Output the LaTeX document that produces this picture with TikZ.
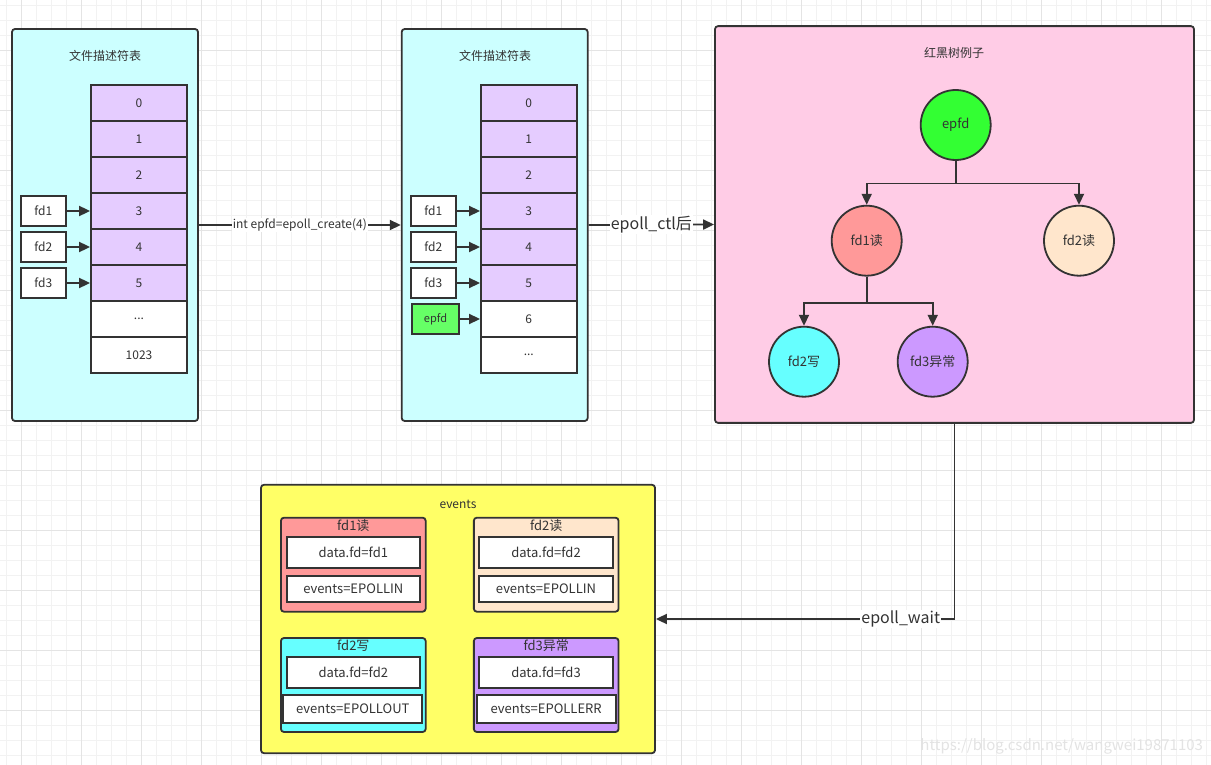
\documentclass[tikz,border=0pt]{standalone}
\usepackage{fontspec}
\newfontfamily\cjk{Noto Sans CJK SC}
\usetikzlibrary{arrows.meta}

\definecolor{panelcyan}{HTML}{CCFFFF}
\definecolor{cellpurple}{HTML}{E5CCFF}
\definecolor{treepink}{HTML}{FFCCE6}
\definecolor{epgreen}{HTML}{33FF33}
\definecolor{boxgreen}{HTML}{66FF66}
\definecolor{rdred}{HTML}{FF9999}
\definecolor{rdpeach}{HTML}{FFE6CC}
\definecolor{wrcyan}{HTML}{66FFFF}
\definecolor{errpurple}{HTML}{CC99FF}
\definecolor{evyellow}{HTML}{FFFF66}
\definecolor{edge}{HTML}{333333}
\definecolor{gridminor}{HTML}{F2F2F2}
\definecolor{gridmajor}{HTML}{E4E4E4}

\tikzset{
  panel/.style={draw=edge,line width=1.8pt,rounded corners=3pt,inner sep=0pt},
  titletext/.style={font=\cjk\fontsize{12}{14}\selectfont,text=edge,inner sep=1pt},
  cell/.style={draw=edge,line width=1.8pt,minimum width=96pt,minimum height=36pt,inner sep=0pt,font=\cjk\fontsize{12}{14}\selectfont,text=edge},
  fdbox/.style={draw=edge,fill=white,line width=1.8pt,minimum width=45pt,minimum height=30pt,inner sep=0pt,font=\cjk\fontsize{12}{14}\selectfont,text=edge},
  tip/.style={-{Triangle[length=11pt,width=10pt]},draw=edge,line width=1.8pt},
  rbnode/.style={circle,draw=edge,line width=1.8pt,minimum size=70pt,inner sep=0pt,font=\cjk\fontsize{13}{15}\selectfont,text=edge},
  evbox/.style={draw=edge,line width=1.8pt,rounded corners=3pt,minimum width=144.7pt,minimum height=94pt,inner sep=0pt},
  evfield/.style={draw=edge,fill=white,line width=1.8pt,inner sep=0pt,font=\cjk\fontsize{13}{15}\selectfont,text=edge},
  edgelabel/.style={fill=white,text=edge,inner sep=1pt}
}

\begin{document}
\begin{tikzpicture}[x=1pt,y=-1pt]
  \useasboundingbox (0,0) rectangle (1211,765);
  % background grid
  \fill[white] (0,0) rectangle (1211,765);
  \foreach \k in {0,...,80} \draw[gridminor,line width=0.8pt] ({6.7+15*\k},0) -- ({6.7+15*\k},765);
  \foreach \k in {0,...,50} \draw[gridminor,line width=0.8pt] (0,{5+15*\k}) -- (1211,{5+15*\k});
  \foreach \k in {0,...,19} \draw[gridmajor,line width=0.8pt] ({21.7+60*\k},0) -- ({21.7+60*\k},765);
  \foreach \k in {0,...,11} \draw[gridmajor,line width=0.8pt] (0,{50+60*\k}) -- (1211,{50+60*\k});

  % file descriptor table
  \node[panel,fill=panelcyan,minimum width=186pt,minimum height=392pt] (lpanel) at (105,225) {};
  \node[titletext] (ltitle) at (105,56) {文件描述符表};
  \foreach \i in {0,...,5}
    \node[cell,fill=cellpurple] (lc\i) at (139,{103+36*\i}) {\i};
  \node[cell,fill=white] (lc6) at (139,319) {...};
  \node[cell,fill=white] (lc7) at (139,355) {1023};
  \foreach \n [count=\r from 3] in {1,2,3} {
    \node[fdbox] (lfd\n) at (43.3,{103+36*\r}) {fd\n};
    \draw[tip] (lfd\n.east) -- (lc\r.west);
  }

  % after epoll_create
  \node[panel,fill=panelcyan,minimum width=186pt,minimum height=392pt] (mpanel) at (494.7,225) {};
  \node[titletext] (mtitle) at (495,56) {文件描述符表};
  \foreach \i in {0,...,5}
    \node[cell,fill=cellpurple,minimum width=95.7pt] (mc\i) at (528.8,{103+36*\i}) {\i};
  \node[cell,fill=white,minimum width=95.7pt] (mc6) at (528.8,319) {6};
  \node[cell,fill=white,minimum width=95.7pt] (mc7) at (528.8,355) {...};
  \foreach \n [count=\r from 3] in {1,2,3} {
    \node[fdbox] (mfd\n) at (433.3,{103+36*\r}) {fd\n};
    \draw[tip] (mfd\n.east) -- (mc\r.west);
  }
  \node[fdbox,fill=boxgreen,minimum width=47pt,font=\cjk\fontsize{11}{13}\selectfont] (mep) at (435.5,319) {epfd};
  \draw[tip] (mep.east) -- (mc6.west);

  \draw[tip] (lpanel.east) -- node[edgelabel,font=\cjk\fontsize{12}{14}\selectfont] {int epfd=epoll\_create(4)} (mpanel.west);

  % red-black tree
  \node[panel,fill=treepink,minimum width=479pt,minimum height=396.7pt] (tpanel) at (954.5,224.5) {};
  \node[titletext] (ttitle) at (954,53) {红黑树例子};
  \node[rbnode,fill=epgreen] (rbep) at (955.7,125) {epfd};
  \node[rbnode,fill=rdred] (rb1r) at (866.7,240.7) {fd1读};
  \node[rbnode,fill=rdpeach] (rb2r) at (1079,240.7) {fd2读};
  \node[rbnode,fill=wrcyan] (rb2w) at (804,361.7) {fd2写};
  \node[rbnode,fill=errpurple] (rb3e) at (932.7,361.7) {fd3异常};
  \draw[tip] (rbep.south) -- ++(0,22.7) -| (rb1r.north);
  \draw[tip] (rbep.south) -- ++(0,22.7) -| (rb2r.north);
  \draw[tip] (rb1r.south) -- ++(0,26) -| (rb2w.north);
  \draw[tip] (rb1r.south) -- ++(0,26) -| (rb3e.north);

  \draw[tip] (mpanel.east) -- node[edgelabel,font=\cjk\fontsize{16}{18}\selectfont] {epoll\_ctl后} (tpanel.west);

  % events array
  \node[panel,fill=evyellow,minimum width=394pt,minimum height=268.4pt] (events) at (458,619) {};
  \node[titletext] (etitle) at (458,504) {events};

  \node[evbox,fill=rdred] (ev1r) at (353.3,564.7) {};
  \node[titletext,font=\cjk\fontsize{13}{15}\selectfont] at (353.3,526) {fd1读};
  \node[evfield,minimum width=133.3pt,minimum height=31pt] (ev1rfd) at (353.3,552.2) {data.fd=fd1};
  \node[evfield,minimum width=133.3pt,minimum height=26.3pt] (ev1rev) at (353.3,588.8) {events=EPOLLIN};

  \node[evbox,fill=rdpeach] (ev2r) at (546.2,564.7) {};
  \node[titletext,font=\cjk\fontsize{13}{15}\selectfont] at (546.2,526) {fd2读};
  \node[evfield,minimum width=133.3pt,minimum height=31pt] (ev2rfd) at (546,552.2) {data.fd=fd2};
  \node[evfield,minimum width=133.3pt,minimum height=26.3pt] (ev2rev) at (546,588.8) {events=EPOLLIN};

  \node[evbox,fill=wrcyan] (ev2w) at (353.3,685) {};
  \node[titletext,font=\cjk\fontsize{13}{15}\selectfont] at (353.3,645.7) {fd2写};
  \node[evfield,minimum width=133.3pt,minimum height=31pt] (ev2wfd) at (353.3,672.5) {data.fd=fd2};
  \node[evfield,minimum width=139pt,minimum height=27.7pt] (ev2wev) at (352.8,708.8) {events=EPOLLOUT};

  \node[evbox,fill=errpurple] (ev3e) at (546.2,685) {};
  \node[titletext,font=\cjk\fontsize{13}{15}\selectfont] at (546.2,645.7) {fd3异常};
  \node[evfield,minimum width=133.3pt,minimum height=31pt] (ev3efd) at (546,672.5) {data.fd=fd3};
  \node[evfield,minimum width=139pt,minimum height=27.7pt] (ev3eev) at (546.2,708.8) {events=EPOLLERR};

  \draw[tip] (tpanel.south) |- node[pos=0.59,edgelabel,font=\cjk\fontsize{16}{18}\selectfont] {epoll\_wait} (events.east);

  % watermark
  \node[text=gray!22,font=\cjk\fontsize{15}{17}\selectfont,inner sep=0pt] (mark) at (1061.7,746.7) {https://blog.csdn.net/wangwei19871103};
\end{tikzpicture}
\end{document}
